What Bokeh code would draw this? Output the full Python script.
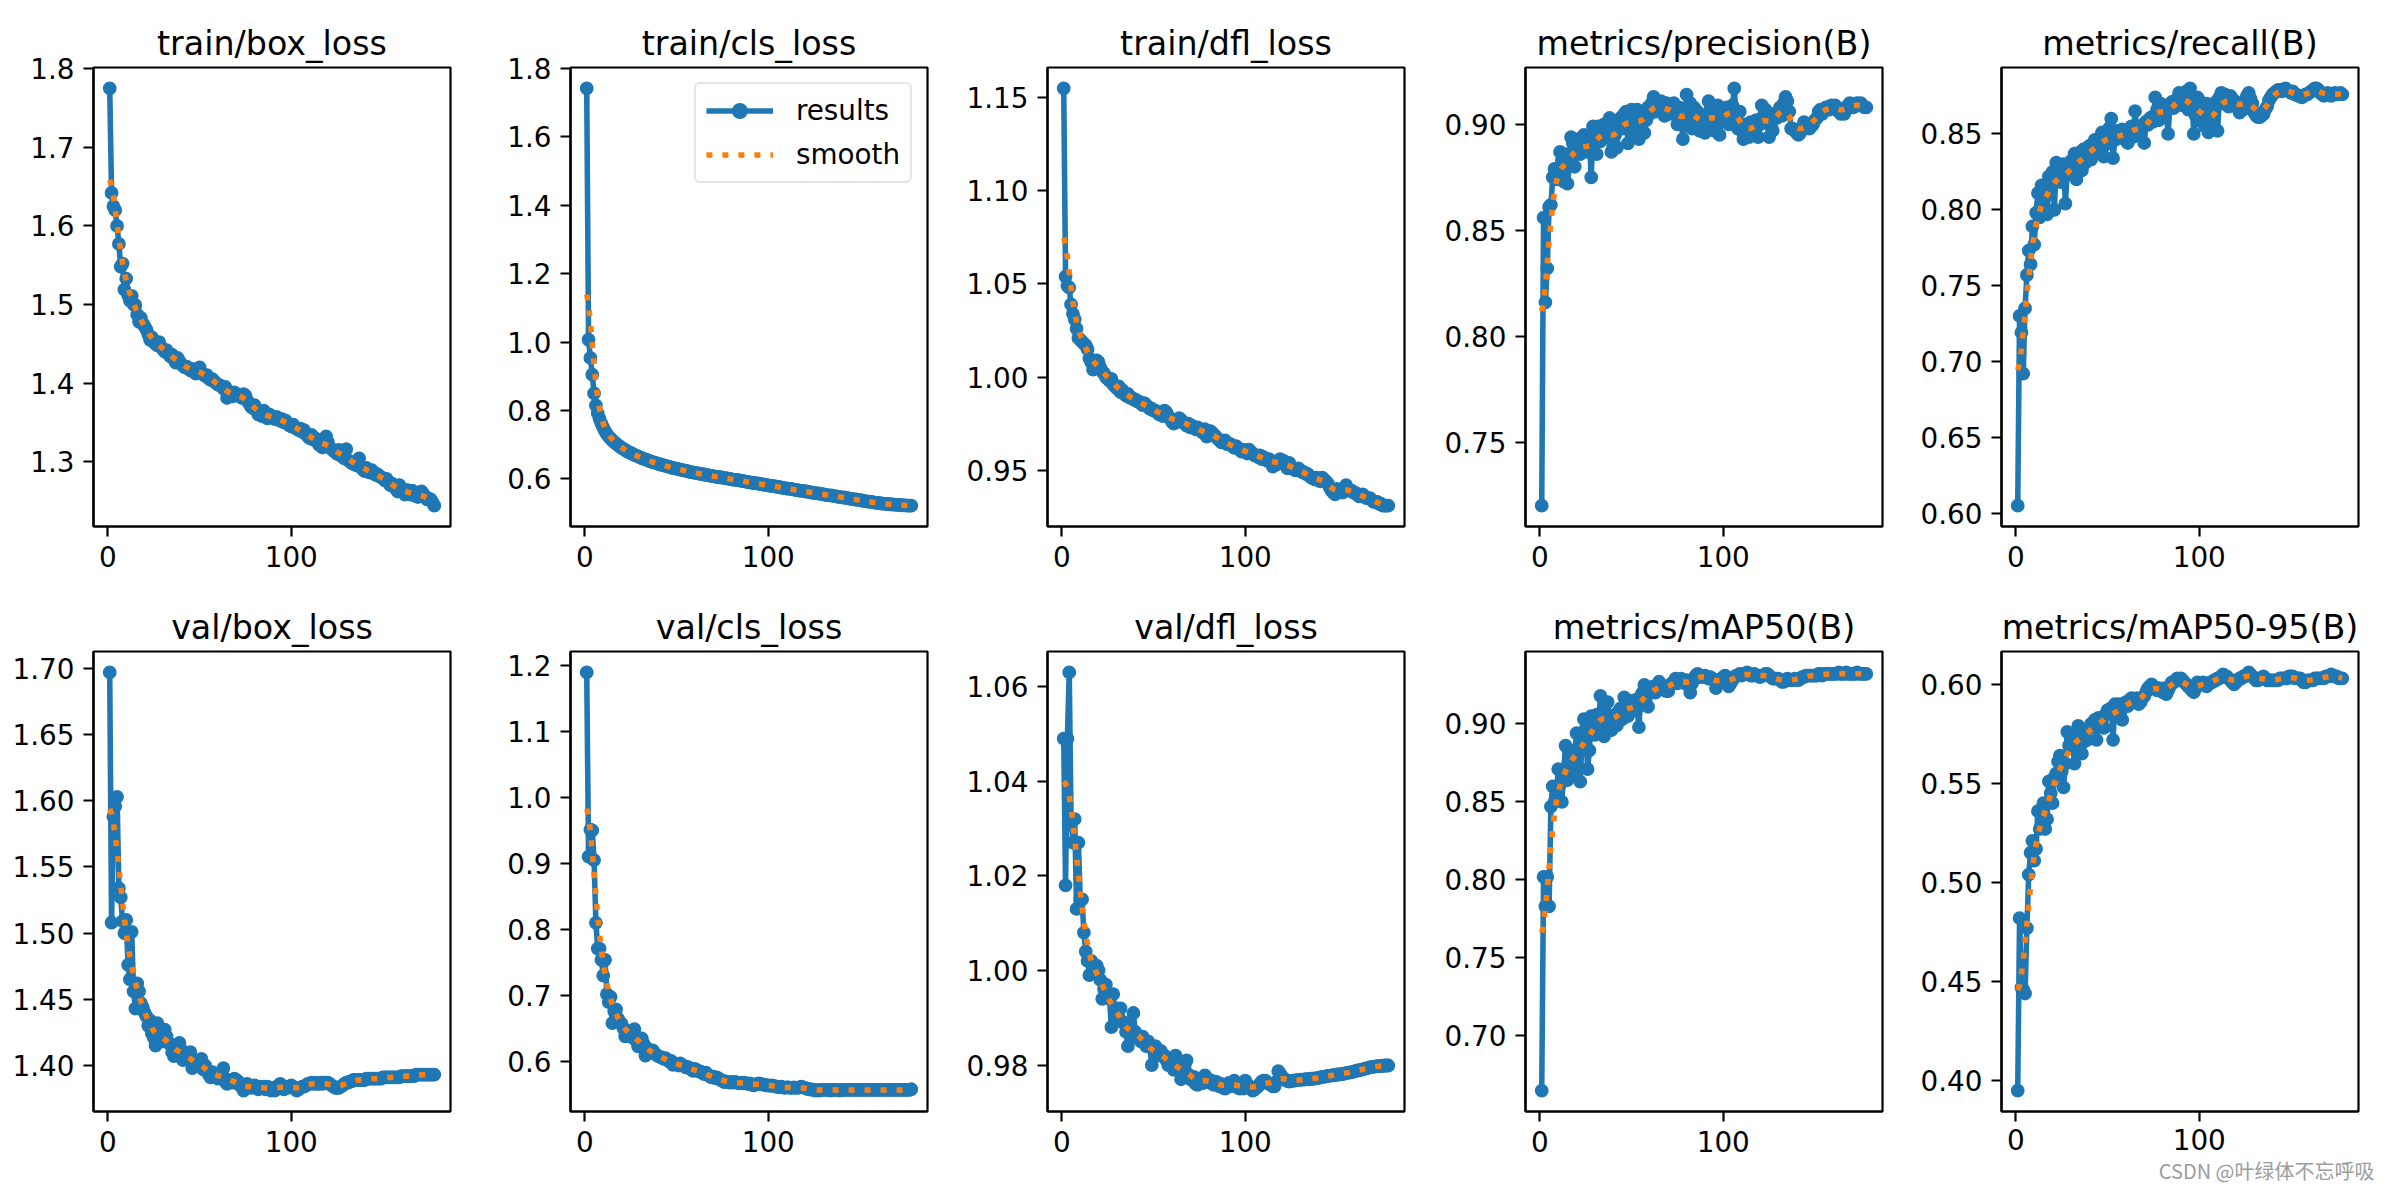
import numpy as np
from bokeh.plotting import figure
from bokeh.layouts import column, row
from bokeh.models import (FixedTicker, PrintfTickFormatter, Range1d, Legend,
                          LegendItem, Title)
from bokeh.embed import file_html
from bokeh.resources import INLINE

epochs = list(range(1, 179))

train_box_loss = [
    1.775, 1.642, 1.625, 1.620, 1.600, 1.577, 1.548, 1.552, 1.519, 1.533,
    1.512, 1.505, 1.511, 1.500, 1.499, 1.487, 1.478, 1.483, 1.476, 1.472,
    1.468, 1.462, 1.455, 1.458, 1.452, 1.450, 1.448, 1.452, 1.446, 1.443,
    1.440, 1.442, 1.437, 1.434, 1.436, 1.430, 1.426, 1.432, 1.428, 1.424,
    1.422, 1.420, 1.421, 1.418, 1.416, 1.418, 1.414, 1.412, 1.417, 1.420,
    1.413, 1.411, 1.409, 1.410, 1.406, 1.404, 1.405, 1.402, 1.400, 1.398,
    1.397, 1.396, 1.393, 1.395, 1.381, 1.389, 1.387, 1.383, 1.388, 1.385,
    1.384, 1.383, 1.381, 1.386, 1.384, 1.378, 1.374, 1.370, 1.368, 1.372,
    1.366, 1.360, 1.363, 1.358, 1.365, 1.357, 1.355, 1.360, 1.358, 1.356,
    1.354, 1.357, 1.355, 1.352, 1.354, 1.350, 1.352, 1.348, 1.346, 1.345,
    1.347, 1.343, 1.342, 1.340, 1.342, 1.338, 1.340, 1.335, 1.332, 1.330,
    1.334, 1.328, 1.330, 1.326, 1.322, 1.320, 1.318, 1.322, 1.332, 1.325,
    1.318, 1.316, 1.314, 1.312, 1.310, 1.315, 1.308, 1.306, 1.304, 1.316,
    1.302, 1.300, 1.298, 1.297, 1.296, 1.295, 1.304, 1.293, 1.290, 1.288,
    1.292, 1.287, 1.286, 1.289, 1.285, 1.283, 1.284, 1.282, 1.280, 1.279,
    1.276, 1.278, 1.274, 1.270, 1.272, 1.268, 1.266, 1.262, 1.270, 1.265,
    1.262, 1.258, 1.264, 1.261, 1.258, 1.263, 1.260, 1.256, 1.255, 1.257,
    1.262, 1.259, 1.256, 1.252, 1.253, 1.252, 1.248, 1.244]

train_cls_loss = [
    1.742, 1.007, 0.954, 0.905, 0.850, 0.815, 0.792, 0.776, 0.762, 0.750,
    0.740, 0.731, 0.724, 0.718, 0.713, 0.708, 0.703, 0.699, 0.695, 0.691,
    0.688, 0.684, 0.681, 0.678, 0.676, 0.673, 0.670, 0.668, 0.666, 0.663,
    0.661, 0.659, 0.657, 0.655, 0.653, 0.651, 0.649, 0.648, 0.646, 0.644,
    0.643, 0.641, 0.640, 0.638, 0.637, 0.635, 0.634, 0.632, 0.631, 0.630,
    0.629, 0.627, 0.626, 0.625, 0.624, 0.623, 0.621, 0.620, 0.619, 0.618,
    0.617, 0.616, 0.615, 0.614, 0.613, 0.612, 0.611, 0.610, 0.609, 0.608,
    0.607, 0.606, 0.605, 0.605, 0.604, 0.603, 0.602, 0.601, 0.600, 0.599,
    0.598, 0.597, 0.597, 0.596, 0.595, 0.594, 0.593, 0.592, 0.591, 0.590,
    0.589, 0.588, 0.588, 0.587, 0.586, 0.585, 0.584, 0.583, 0.582, 0.581,
    0.580, 0.580, 0.579, 0.578, 0.577, 0.576, 0.575, 0.574, 0.573, 0.572,
    0.572, 0.571, 0.570, 0.569, 0.568, 0.567, 0.566, 0.565, 0.565, 0.564,
    0.563, 0.562, 0.561, 0.560, 0.559, 0.558, 0.558, 0.557, 0.556, 0.555,
    0.554, 0.553, 0.552, 0.552, 0.551, 0.550, 0.549, 0.548, 0.547, 0.546,
    0.546, 0.545, 0.544, 0.543, 0.542, 0.541, 0.540, 0.540, 0.539, 0.538,
    0.537, 0.536, 0.535, 0.534, 0.534, 0.533, 0.532, 0.531, 0.530, 0.530,
    0.529, 0.528, 0.528, 0.527, 0.527, 0.526, 0.526, 0.525, 0.525, 0.524,
    0.524, 0.524, 0.523, 0.523, 0.523, 0.522, 0.522, 0.522]

train_dfl_loss = [
    1.155, 1.054, 1.049, 1.048, 1.039, 1.034, 1.031, 1.026, 1.021, 1.020,
    1.019, 1.018, 1.017, 1.015, 1.010, 1.008, 1.004, 1.006, 1.009, 1.008,
    1.005, 1.003, 1.002, 1.000, 0.999, 0.998, 0.999, 0.996, 0.995, 0.994,
    0.995, 0.992, 0.993, 0.991, 0.990, 0.991, 0.989, 0.989, 0.988, 0.988,
    0.987, 0.987, 0.986, 0.985, 0.986, 0.985, 0.984, 0.983, 0.983, 0.982,
    0.982, 0.981, 0.980, 0.981, 0.979, 0.982, 0.981, 0.979, 0.978, 0.976,
    0.975, 0.977, 0.976, 0.978, 0.977, 0.976, 0.975, 0.974, 0.975, 0.973,
    0.974, 0.973, 0.972, 0.973, 0.972, 0.971, 0.970, 0.972, 0.968, 0.969,
    0.971, 0.970, 0.969, 0.968, 0.967, 0.966, 0.965, 0.965, 0.966, 0.964,
    0.964, 0.964, 0.963, 0.962, 0.963, 0.962, 0.961, 0.960, 0.961, 0.960,
    0.959, 0.961, 0.960, 0.959, 0.958, 0.958, 0.957, 0.958, 0.956, 0.957,
    0.956, 0.955, 0.956, 0.955, 0.952, 0.954, 0.953, 0.955, 0.956, 0.954,
    0.955, 0.953, 0.951, 0.954, 0.952, 0.951, 0.950, 0.950, 0.951, 0.950,
    0.949, 0.949, 0.948, 0.948, 0.947, 0.946, 0.946, 0.945, 0.946, 0.945,
    0.944, 0.946, 0.945, 0.944, 0.943, 0.941, 0.939, 0.938, 0.937, 0.940,
    0.939, 0.939, 0.938, 0.940, 0.942, 0.940, 0.939, 0.939, 0.938, 0.938,
    0.937, 0.936, 0.936, 0.937, 0.936, 0.935, 0.935, 0.935, 0.934, 0.933,
    0.933, 0.933, 0.932, 0.932, 0.931, 0.931, 0.931, 0.931]

precision = [
    0.720, 0.856, 0.816, 0.832, 0.861, 0.862, 0.875, 0.879, 0.874, 0.879,
    0.887, 0.883, 0.873, 0.886, 0.872, 0.880, 0.894, 0.891, 0.880, 0.889,
    0.893, 0.886, 0.890, 0.895, 0.889, 0.887, 0.893, 0.875, 0.899, 0.896,
    0.886, 0.899, 0.892, 0.896, 0.900, 0.894, 0.897, 0.903, 0.887, 0.890,
    0.895, 0.889, 0.900, 0.903, 0.898, 0.905, 0.906, 0.891, 0.900, 0.907,
    0.896, 0.904, 0.907, 0.893, 0.901, 0.906, 0.896, 0.902, 0.908, 0.905,
    0.910, 0.913, 0.906, 0.908, 0.909, 0.911, 0.906, 0.904, 0.910, 0.908,
    0.905, 0.907, 0.910, 0.905, 0.900, 0.908, 0.902, 0.893, 0.901, 0.914,
    0.906, 0.910, 0.898, 0.908, 0.903, 0.906, 0.897, 0.902, 0.900, 0.896,
    0.904, 0.911, 0.907, 0.900, 0.897, 0.905, 0.909, 0.895, 0.903, 0.906,
    0.902, 0.908, 0.900, 0.906, 0.909, 0.917, 0.904, 0.898, 0.906, 0.897,
    0.893, 0.900, 0.897, 0.894, 0.901, 0.899, 0.895, 0.902, 0.894, 0.900,
    0.909, 0.904, 0.907, 0.902, 0.894, 0.899, 0.897, 0.905, 0.903, 0.906,
    0.908, 0.904, 0.910, 0.913, 0.911, 0.906, 0.898, 0.898, 0.897, 0.896,
    0.895, 0.896, 0.898, 0.901, 0.900, 0.899, 0.898, 0.899, 0.900, 0.902,
    0.903, 0.906, 0.907, 0.905, 0.907, 0.908, 0.908, 0.907, 0.909, 0.908,
    0.909, 0.908, 0.906, 0.905, 0.906, 0.905, 0.907, 0.909, 0.910, 0.909,
    0.908, 0.909, 0.910, 0.909, 0.910, 0.909, 0.908, 0.908]

recall = [
    0.605, 0.730, 0.719, 0.692, 0.735, 0.757, 0.773, 0.764, 0.789, 0.777,
    0.798, 0.811, 0.795, 0.816, 0.800, 0.808, 0.797, 0.822, 0.815, 0.825,
    0.800, 0.831, 0.822, 0.828, 0.818, 0.830, 0.804, 0.826, 0.829, 0.832,
    0.823, 0.837, 0.820, 0.834, 0.838, 0.826, 0.840, 0.831, 0.836, 0.842,
    0.833, 0.839, 0.846, 0.837, 0.844, 0.848, 0.851, 0.835, 0.843, 0.847,
    0.854, 0.860, 0.834, 0.846, 0.852, 0.847, 0.849, 0.853, 0.848, 0.850,
    0.844, 0.852, 0.855, 0.848, 0.865, 0.849, 0.853, 0.851, 0.856, 0.844,
    0.858, 0.856, 0.860, 0.861, 0.858, 0.874, 0.866, 0.859, 0.870, 0.862,
    0.868, 0.865, 0.850, 0.869, 0.871, 0.867, 0.872, 0.870, 0.877, 0.869,
    0.875, 0.872, 0.878, 0.866, 0.880, 0.874, 0.850, 0.862, 0.874, 0.872,
    0.858, 0.866, 0.855, 0.870, 0.851, 0.860, 0.864, 0.853, 0.871, 0.852,
    0.874, 0.877, 0.870, 0.876, 0.872, 0.868, 0.875, 0.873, 0.869, 0.871,
    0.867, 0.864, 0.870, 0.866, 0.872, 0.875, 0.877, 0.873, 0.870, 0.864,
    0.862, 0.861, 0.861, 0.862, 0.863, 0.866, 0.868, 0.872, 0.874, 0.876,
    0.877, 0.878, 0.879, 0.879, 0.878, 0.879, 0.880, 0.879, 0.878, 0.877,
    0.878, 0.876, 0.876, 0.875, 0.875, 0.874, 0.875, 0.876, 0.876, 0.877,
    0.878, 0.879, 0.880, 0.880, 0.879, 0.877, 0.876, 0.875, 0.876, 0.877,
    0.876, 0.875, 0.876, 0.877, 0.876, 0.876, 0.877, 0.876]

val_box_loss = [
    1.697, 1.508, 1.588, 1.596, 1.603, 1.534, 1.527, 1.509, 1.500, 1.510,
    1.476, 1.465, 1.501, 1.456, 1.443, 1.462, 1.456, 1.447, 1.444, 1.440,
    1.437, 1.430, 1.434, 1.424, 1.421, 1.415, 1.432, 1.420, 1.418, 1.421,
    1.427, 1.422, 1.417, 1.416, 1.410, 1.407, 1.412, 1.410, 1.417, 1.412,
    1.404, 1.406, 1.409, 1.407, 1.410, 1.398, 1.403, 1.401, 1.400, 1.402,
    1.405, 1.397, 1.400, 1.396, 1.393, 1.391, 1.395, 1.393, 1.392, 1.390,
    1.391, 1.394, 1.398, 1.388, 1.386, 1.389, 1.388, 1.387, 1.390, 1.389,
    1.388, 1.385, 1.384, 1.381, 1.383, 1.386, 1.385, 1.383, 1.384, 1.385,
    1.383, 1.382, 1.384, 1.383, 1.384, 1.382, 1.384, 1.383, 1.381, 1.383,
    1.381, 1.383, 1.385, 1.386, 1.383, 1.382, 1.384, 1.383, 1.384, 1.385,
    1.384, 1.383, 1.381, 1.382, 1.383, 1.384, 1.384, 1.385, 1.386, 1.386,
    1.387, 1.386, 1.387, 1.386, 1.386, 1.387, 1.386, 1.387, 1.387, 1.387,
    1.386, 1.385, 1.384, 1.383, 1.383, 1.383, 1.384, 1.385, 1.386, 1.387,
    1.387, 1.388, 1.388, 1.389, 1.389, 1.389, 1.389, 1.389, 1.389, 1.389,
    1.390, 1.390, 1.390, 1.390, 1.390, 1.390, 1.390, 1.390, 1.390, 1.391,
    1.391, 1.391, 1.391, 1.391, 1.391, 1.391, 1.391, 1.391, 1.391, 1.392,
    1.392, 1.392, 1.392, 1.392, 1.392, 1.392, 1.392, 1.393, 1.393, 1.393,
    1.393, 1.393, 1.393, 1.393, 1.393, 1.393, 1.393, 1.393]

val_cls_loss = [
    1.189, 0.910, 0.951, 0.950, 0.905, 0.810, 0.771, 0.771, 0.754, 0.730,
    0.754, 0.702, 0.690, 0.698, 0.658, 0.676, 0.679, 0.665, 0.660, 0.657,
    0.650, 0.638, 0.645, 0.646, 0.640, 0.636, 0.649, 0.632, 0.623, 0.630,
    0.635, 0.627, 0.609, 0.620, 0.616, 0.614, 0.617, 0.612, 0.610, 0.608,
    0.607, 0.606, 0.604, 0.605, 0.603, 0.600, 0.601, 0.595, 0.597, 0.596,
    0.594, 0.597, 0.595, 0.593, 0.591, 0.592, 0.590, 0.588, 0.586, 0.589,
    0.587, 0.585, 0.585, 0.583, 0.581, 0.583, 0.580, 0.578, 0.576, 0.577,
    0.575, 0.576, 0.574, 0.572, 0.571, 0.569, 0.570, 0.569, 0.568, 0.569,
    0.568, 0.569, 0.568, 0.567, 0.568, 0.567, 0.568, 0.567, 0.566, 0.567,
    0.565, 0.564, 0.565, 0.566, 0.567, 0.566, 0.565, 0.565, 0.564, 0.564,
    0.563, 0.564, 0.563, 0.562, 0.562, 0.561, 0.562, 0.561, 0.560, 0.561,
    0.561, 0.560, 0.560, 0.561, 0.560, 0.560, 0.561, 0.562, 0.561, 0.560,
    0.559, 0.558, 0.558, 0.557, 0.557, 0.556, 0.557, 0.556, 0.557, 0.557,
    0.557, 0.557, 0.557, 0.556, 0.557, 0.557, 0.557, 0.557, 0.556, 0.557,
    0.557, 0.557, 0.557, 0.557, 0.557, 0.557, 0.557, 0.557, 0.557, 0.557,
    0.557, 0.557, 0.557, 0.557, 0.557, 0.557, 0.557, 0.557, 0.557, 0.557,
    0.557, 0.557, 0.557, 0.557, 0.557, 0.557, 0.557, 0.557, 0.557, 0.557,
    0.557, 0.557, 0.557, 0.557, 0.557, 0.557, 0.557, 0.558]

val_dfl_loss = [
    1.049, 1.018, 1.049, 1.063, 1.032, 1.027, 1.032, 1.013, 1.027, 1.015,
    1.015, 1.008, 1.004, 1.002, 0.999, 1.002, 1.001, 1.000, 1.001, 1.000,
    0.998, 0.994, 0.996, 0.997, 0.995, 0.994, 0.988, 0.995, 0.990, 0.992,
    0.990, 0.992, 0.989, 0.989, 0.987, 0.984, 0.987, 0.986, 0.991, 0.987,
    0.986, 0.986, 0.985, 0.986, 0.985, 0.984, 0.985, 0.984, 0.980, 0.983,
    0.984, 0.983, 0.982, 0.983, 0.982, 0.982, 0.981, 0.980, 0.981, 0.980,
    0.979, 0.982, 0.980, 0.979, 0.977, 0.978, 0.980, 0.981, 0.978, 0.977,
    0.9768, 0.9775, 0.9760, 0.9758, 0.9765, 0.9770, 0.9762, 0.9778, 0.9770, 0.9765,
    0.9768, 0.9760, 0.9758, 0.9765, 0.9762, 0.9755, 0.9760, 0.9752, 0.9750, 0.9758,
    0.9762, 0.9755, 0.9760, 0.9767, 0.9758, 0.9752, 0.9750, 0.9755, 0.9750, 0.9767,
    0.9760, 0.9755, 0.9750, 0.9746, 0.9748, 0.9752, 0.9755, 0.9760, 0.9765, 0.9767,
    0.9767, 0.9762, 0.9760, 0.9758, 0.9755, 0.9755, 0.9765, 0.9787, 0.9782, 0.9775,
    0.9772, 0.9768, 0.9766, 0.9765, 0.9766, 0.9767, 0.9767, 0.9768, 0.9768, 0.9769,
    0.9769, 0.9769, 0.9770, 0.9770, 0.9770, 0.9771, 0.9771, 0.9772, 0.9772, 0.9773,
    0.9774, 0.9775, 0.9775, 0.9776, 0.9777, 0.9777, 0.9778, 0.9778, 0.9779, 0.9780,
    0.9780, 0.9781, 0.9781, 0.9782, 0.9783, 0.9784, 0.9784, 0.9785, 0.9786, 0.9787,
    0.9788, 0.9789, 0.9790, 0.9791, 0.9792, 0.9793, 0.9794, 0.9795, 0.9796, 0.9796,
    0.9797, 0.9797, 0.9798, 0.9798, 0.9798, 0.9799, 0.9799, 0.9799]

map50 = [
    0.665, 0.802, 0.783, 0.802, 0.783, 0.847, 0.860, 0.850, 0.854, 0.871,
    0.861, 0.850, 0.870, 0.886, 0.864, 0.881, 0.874, 0.869, 0.880, 0.894,
    0.885, 0.863, 0.890, 0.903, 0.897, 0.871, 0.883, 0.905, 0.900, 0.893,
    0.906, 0.896, 0.918, 0.906, 0.892, 0.904, 0.914, 0.900, 0.896, 0.902,
    0.906, 0.899, 0.908, 0.910, 0.903, 0.917, 0.912, 0.905, 0.911, 0.908,
    0.915, 0.913, 0.910, 0.898, 0.918, 0.920, 0.925, 0.917, 0.911, 0.921,
    0.922, 0.924, 0.920, 0.923, 0.927, 0.925, 0.922, 0.924, 0.921, 0.921,
    0.925, 0.926, 0.927, 0.929, 0.926, 0.928, 0.929, 0.927, 0.926, 0.928,
    0.927, 0.920, 0.926, 0.929, 0.931, 0.932, 0.930, 0.931, 0.930, 0.931,
    0.930, 0.929, 0.930, 0.929, 0.928, 0.923, 0.926, 0.928, 0.929, 0.930,
    0.931, 0.927, 0.924, 0.926, 0.928, 0.930, 0.931, 0.931, 0.932, 0.931,
    0.932, 0.932, 0.933, 0.932, 0.931, 0.931, 0.932, 0.931, 0.931, 0.930,
    0.931, 0.931, 0.932, 0.932, 0.931, 0.930, 0.929, 0.929, 0.929, 0.929,
    0.928, 0.927, 0.927, 0.928, 0.929, 0.928, 0.928, 0.928, 0.929, 0.928,
    0.928, 0.929, 0.930, 0.930, 0.931, 0.931, 0.931, 0.931, 0.931, 0.931,
    0.931, 0.932, 0.932, 0.931, 0.932, 0.932, 0.932, 0.932, 0.932, 0.932,
    0.932, 0.932, 0.933, 0.932, 0.932, 0.932, 0.933, 0.932, 0.932, 0.932,
    0.932, 0.932, 0.933, 0.932, 0.932, 0.932, 0.932, 0.932]

map50_95 = [
    0.395, 0.482, 0.447, 0.446, 0.444, 0.477, 0.504, 0.515, 0.521, 0.511,
    0.517, 0.536, 0.527, 0.532, 0.540, 0.527, 0.532, 0.551, 0.545, 0.540,
    0.553, 0.555, 0.561, 0.564, 0.556, 0.548, 0.560, 0.576, 0.569, 0.572,
    0.568, 0.560, 0.575, 0.579, 0.578, 0.565, 0.571, 0.576, 0.572, 0.578,
    0.580, 0.579, 0.582, 0.572, 0.583, 0.580, 0.582, 0.578, 0.585, 0.587,
    0.586, 0.588, 0.572, 0.590, 0.589, 0.590, 0.586, 0.582, 0.590, 0.591,
    0.589, 0.592, 0.593, 0.591, 0.592, 0.593, 0.590, 0.591, 0.593, 0.594,
    0.596, 0.598, 0.599, 0.600, 0.599, 0.598, 0.597, 0.598, 0.597, 0.596,
    0.598, 0.595, 0.597, 0.599, 0.601, 0.601, 0.602, 0.603, 0.602, 0.603,
    0.602, 0.601, 0.600, 0.599, 0.598, 0.597, 0.596, 0.598, 0.601, 0.600,
    0.600, 0.601, 0.600, 0.599, 0.600, 0.601, 0.601, 0.602, 0.602, 0.603,
    0.603, 0.604, 0.605, 0.604, 0.604, 0.603, 0.602, 0.601, 0.600, 0.601,
    0.602, 0.603, 0.603, 0.604, 0.604, 0.605, 0.606, 0.605, 0.604, 0.603,
    0.602, 0.602, 0.603, 0.603, 0.604, 0.603, 0.602, 0.602, 0.602, 0.602,
    0.602, 0.602, 0.602, 0.603, 0.603, 0.603, 0.603, 0.603, 0.604, 0.604,
    0.604, 0.603, 0.603, 0.603, 0.603, 0.602, 0.601, 0.601, 0.602, 0.602,
    0.602, 0.602, 0.603, 0.603, 0.603, 0.603, 0.603, 0.603, 0.604, 0.604,
    0.604, 0.605, 0.604, 0.604, 0.604, 0.603, 0.603, 0.603]

titles = ["train/box_loss", "train/cls_loss", "train/dfl_loss",
          "metrics/precision(B)", "metrics/recall(B)",
          "val/box_loss", "val/cls_loss", "val/dfl_loss",
          "metrics/mAP50(B)", "metrics/mAP50-95(B)"]
series = [train_box_loss, train_cls_loss, train_dfl_loss, precision, recall,
          val_box_loss, val_cls_loss, val_dfl_loss, map50, map50_95]
x_ticks = [0, 100]
y_ticks = [
    [1.3, 1.4, 1.5, 1.6, 1.7, 1.8],
    [0.6, 0.8, 1.0, 1.2, 1.4, 1.6, 1.8],
    [0.95, 1.00, 1.05, 1.10, 1.15],
    [0.75, 0.80, 0.85, 0.90],
    [0.60, 0.65, 0.70, 0.75, 0.80, 0.85],
    [1.40, 1.45, 1.50, 1.55, 1.60, 1.65, 1.70],
    [0.6, 0.7, 0.8, 0.9, 1.0, 1.1, 1.2],
    [0.98, 1.00, 1.02, 1.04, 1.06],
    [0.70, 0.75, 0.80, 0.85, 0.90],
    [0.40, 0.45, 0.50, 0.55, 0.60],
]
y_formats = ["%.1f", "%.1f", "%.2f", "%.2f", "%.2f",
             "%.2f", "%.1f", "%.2f", "%.2f", "%.2f"]
legend_labels = ["results", "smooth"]
watermark = "CSDN @叶绿体不忘呼吸"


def gaussian_smooth(y, sigma=3.0, truncate=4.0):
    y = np.asarray(y, dtype=float)
    r = int(truncate * sigma + 0.5)
    k = np.arange(-r, r + 1)
    w = np.exp(-0.5 * (k / sigma) ** 2)
    w /= w.sum()
    yp = np.pad(y, r, mode="symmetric")
    return np.convolve(yp, w, mode="valid")


BLUE = "#1f77b4"
ORANGE = "#ff7f0e"
FONT = "DejaVu Sans"
LW = 5.56

col_left = [93, 98, 95, 93, 89]
col_right = [22, 25, 28, 30, 26]
row_top = [67, 59]
row_bottom = [66, 73]
frame_h = [459, 460]
frame_w = 357

figs = []
for i, (title, y) in enumerate(zip(titles, series)):
    r, c = divmod(i, 5)
    x = epochs[:len(y)]
    ys = gaussian_smooth(y)
    lo, hi = min(y), max(y)
    pad = 0.05 * (hi - lo)
    xpad = 0.05 * (x[-1] - x[0])
    p = figure(frame_width=frame_w, frame_height=frame_h[r],
               min_border_left=col_left[c], min_border_right=col_right[c],
               min_border_top=row_top[r], min_border_bottom=row_bottom[r],
               x_range=Range1d(x[0] - xpad, x[-1] + xpad),
               y_range=Range1d(lo - pad, hi + pad),
               output_backend="svg", toolbar_location=None, title=title)
    p.title.text_font = FONT
    p.title.text_font_size = "33.3px"
    p.title.text_font_style = "normal"
    p.title.text_color = "black"
    p.title.align = "center"
    p.title.standoff = 9
    p.xgrid.visible = False
    p.ygrid.visible = False
    p.outline_line_color = "black"
    p.outline_line_width = 2.2
    p.outline_line_alpha = 1.0
    p.background_fill_color = "white"
    p.border_fill_color = "white"
    for ax in (p.xaxis[0], p.yaxis[0]):
        ax.axis_line_color = "black"
        ax.axis_line_width = 2.2
        ax.major_tick_line_color = "black"
        ax.major_tick_line_width = 2.2
        ax.major_tick_out = 10
        ax.major_tick_in = 0
        ax.minor_tick_out = 0
        ax.minor_tick_in = 0
        ax.major_label_text_font = FONT
        ax.major_label_text_font_size = "27.8px"
        ax.major_label_text_color = "black"
        ax.major_label_standoff = 9
    p.xaxis[0].ticker = FixedTicker(ticks=x_ticks)
    p.yaxis[0].ticker = FixedTicker(ticks=y_ticks[i])
    p.yaxis[0].formatter = PrintfTickFormatter(format=y_formats[i])

    l1 = p.line(x, y, line_width=LW, line_color=BLUE, line_join="round")
    s1 = p.scatter(x, y, size=11, fill_color=BLUE, line_color=BLUE, line_width=2.8)
    l2 = p.line(x, ys, line_width=LW, line_color=ORANGE, line_dash="6 10",
                line_cap="butt")

    if i == 1:
        legend = Legend(items=[LegendItem(label=legend_labels[0], renderers=[l1, s1]),
                               LegendItem(label=legend_labels[1], renderers=[l2])],
                        location="top_right")
        legend.margin = 15
        legend.padding = 10
        legend.spacing = 11
        legend.glyph_width = 67
        legend.glyph_height = 33
        legend.label_height = 33
        legend.label_standoff = 23
        legend.label_text_font = FONT
        legend.label_text_font_size = "27.8px"
        legend.label_text_color = "black"
        legend.border_line_color = "#cccccc"
        legend.border_line_width = 2.5
        legend.background_fill_color = "white"
        legend.background_fill_alpha = 0.8
        try:
            legend.border_radius = 6
        except Exception:
            pass
        p.add_layout(legend)

    if i == 9:
        p.xaxis[0].major_label_standoff = 7
        wm = Title(text=watermark, align="right", offset=-16, standoff=3,
                   vertical_align="bottom", text_font="Noto Sans CJK SC",
                   text_font_size="20px", text_font_style="normal",
                   text_color="#9c9c9c")
        p.add_layout(wm, "below")
    figs.append(p)

layout = column(row(*figs[:5]), row(*figs[5:]))
open("out.html", "w").write(file_html(layout, INLINE))
